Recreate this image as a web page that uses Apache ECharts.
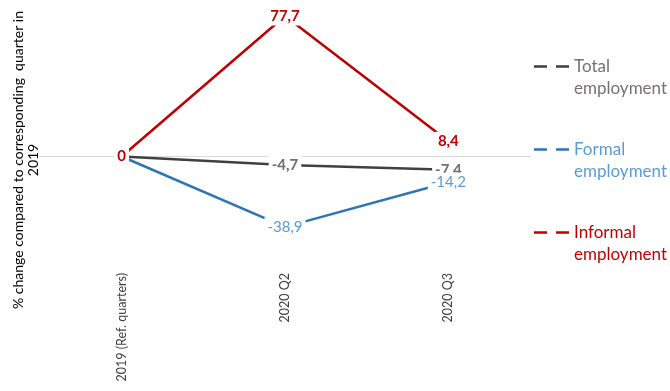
<!DOCTYPE html>
<html>
<head>
<meta charset="utf-8">
<script src="https://cdn.jsdelivr.net/npm/echarts@6/dist/echarts.min.js"></script>
<style>html,body{margin:0;padding:0;background:#fff}#c{width:670px;height:391px}</style>
</head>
<body>
<div id="c"></div>
<script>
var categories = ['2019 (Ref. quarters)', '2020 Q2', '2020 Q3'];
var totalEmployment = [0, -4.7, -7.4];
var formalEmployment = [0, -38.9, -14.2];
var informalEmployment = [0, 77.7, 8.4];
var seriesNames = ['Total employment', 'Formal employment', 'Informal employment'];
var yTitle = '% change compared to corresponding  quarter in\n2019';

var FONT = 'Lato';
var lineColors = ['#404040', '#2e75b6', '#c00000'];
var textColors = ['#767171', '#5b9bd5', '#c00000'];
var labelColors = ['#6f6f6f', '#5b9bd5', '#c00000'];
var labelWeights = ['bold', 'normal', 'bold'];
var allData = [totalEmployment, formalEmployment, informalEmployment];

function fmt(v) { return String(v).replace('.', ','); }

var chart = echarts.init(document.getElementById('c'), null, {renderer: 'canvas'});
var series = allData.map(function (d, i) {
  return {
    name: seriesNames[i],
    type: 'line',
    xAxisIndex: 0,
    data: d,
    symbol: 'circle',
    symbolSize: 0.1,
    showSymbol: true,
    lineStyle: {color: lineColors[i], width: 2.5},
    itemStyle: {color: lineColors[i]},
    label: {
      show: true,
      position: 'inside',
      formatter: function (p) { return fmt(p.value); },
      color: labelColors[i],
      fontFamily: FONT,
      fontSize: 15,
      fontWeight: labelWeights[i],
      backgroundColor: '#fff',
      padding: [2, 3]
    },
    emphasis: {disabled: true},
    animation: false
  };
});

var dashIcon = 'path://M0,0h13v2.5h-13zM22,0h13v2.5h-13zM0,24.4h0.05v0.05h-0.05z';

chart.setOption({
  animation: false,
  grid: {left: 40, right: 140, top: 10, bottom: 126, containLabel: false},
  xAxis: [{
    type: 'category',
    data: categories,
    boundaryGap: true,
    position: 'bottom',
    axisLine: {show: false, onZero: false},
    axisTick: {show: false},
    axisLabel: {rotate: 90, margin: 8, color: '#404040', fontFamily: FONT, fontSize: 12.5}
  }, {
    type: 'category',
    data: categories,
    boundaryGap: true,
    position: 'bottom',
    axisLine: {show: true, onZero: true, onZeroAxisIndex: 0, lineStyle: {color: '#d9d9d9', width: 1}},
    axisTick: {show: false},
    axisLabel: {show: false}
  }],
  yAxis: {
    type: 'value',
    min: -60,
    max: 81,
    axisLine: {show: false},
    axisTick: {show: false},
    axisLabel: {show: false},
    splitLine: {show: false}
  },
  legend: {
    orient: 'vertical',
    left: 529,
    top: 50.5,
    itemGap: 39,
    itemWidth: 35,
    itemHeight: 24.5,
    icon: dashIcon,
    formatter: function (n) { return n.replace(' ', '\n'); },
    textStyle: {fontFamily: FONT, fontSize: 17, lineHeight: 22},
    data: seriesNames.map(function (n, i) {
      return {name: n, textStyle: {color: textColors[i]}, itemStyle: {color: lineColors[i]}};
    }),
    selectedMode: false
  },
  graphic: [{
    type: 'text',
    x: 26,
    y: 160,
    rotation: Math.PI / 2,
    style: {
      text: yTitle,
      align: 'center',
      verticalAlign: 'middle',
      fontFamily: FONT,
      fontSize: 14,
      lineHeight: 15,
      fill: '#000'
    }
  }],
  series: series
});
</script>
</body>
</html>
